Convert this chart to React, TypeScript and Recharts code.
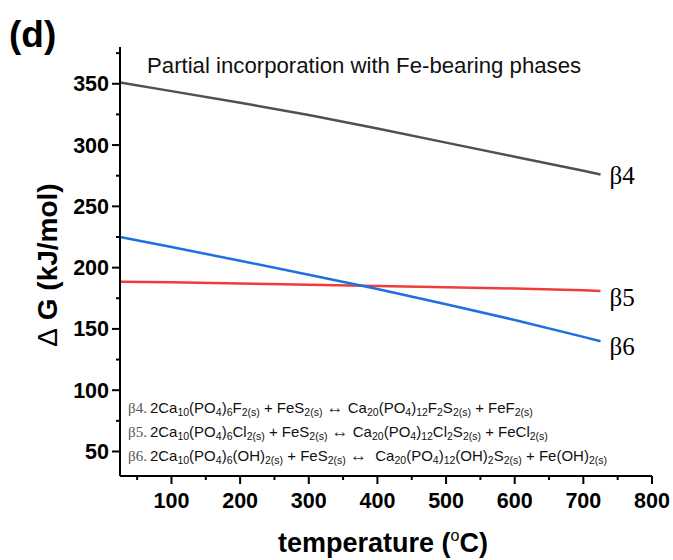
import React from "react";
import { LineChart, Line, XAxis, YAxis } from "recharts";

const temperature = [25, 100, 200, 300, 400, 500, 600, 700, 725];
const beta4 = [351, 344, 334.5, 324.5, 313.5, 302, 290.5, 279, 276];
const beta5 = [188.5, 188, 187, 186, 185, 184, 183, 181.5, 181];
const beta6 = [225, 216.8, 205.6, 194.2, 182.5, 170.2, 157.3, 143.5, 140];

const xTicks = [50, 100, 150, 200, 250, 300, 350, 400, 450, 500, 550, 600, 650, 700, 750, 800];
const xLabels = [100, 200, 300, 400, 500, 600, 700, 800];
const yTicks = [50, 75, 100, 125, 150, 175, 200, 225, 250, 275, 300, 325, 350, 375];
const yLabels = [50, 100, 150, 200, 250, 300, 350];

const data = temperature.map((t, i) => ({
  t,
  b4: beta4[i],
  b5: beta5[i],
  b6: beta6[i],
}));

const sans = "'Liberation Sans', Arial, sans-serif";
const serif = "'Liberation Serif', 'Times New Roman', serif";

// @ts-ignore
const XTick = (props) => {
  const { x, y, payload } = props;
  const major = xLabels.includes(payload.value);
  return (
    <g>
      <line x1={x} x2={x} y1={y} y2={y + (major ? 8 : 4)} stroke="#000" strokeWidth={2} />
      {major && (
        <text x={x} y={y + 32} textAnchor="middle" fontFamily={sans} fontWeight="bold" fontSize={21.5} fill="#000">
          {payload.value}
        </text>
      )}
    </g>
  );
};

// @ts-ignore
const YTick = (props) => {
  const { x, y, payload } = props;
  const major = yLabels.includes(payload.value);
  return (
    <g>
      <line x1={x} x2={x - (major ? 8 : 4)} y1={y} y2={y} stroke="#000" strokeWidth={2} />
      {major && (
        <text x={x - 11} y={y + 7.5} textAnchor="end" fontFamily={sans} fontWeight="bold" fontSize={21.5} fill="#000">
          {payload.value}
        </text>
      )}
    </g>
  );
};

const endLabel = (name: string, dy: number) => (props: any) => {
  const { x, y, index } = props;
  if (index !== temperature.length - 1) return null;
  return (
    <text key={name} x={x + 9} y={y + dy} fontFamily={serif} fontSize={25} fill="#000">
      {name}
    </text>
  );
};

const subStyle: React.CSSProperties = { fontSize: 10.5, verticalAlign: "-3px", lineHeight: 0 };
const S = (p: { children: React.ReactNode }) => <span style={subStyle}>{p.children}</span>;
const B = (p: { children: React.ReactNode }) => (
  <span style={{ fontFamily: serif, color: "#555", marginRight: 3 }}>{p.children}</span>
);
const Arrow = () => <span style={{ fontSize: 17, color: "#333" }}>↔</span>;

const eqStyle = (top: number): React.CSSProperties => ({
  position: "absolute",
  left: 128,
  top,
  fontFamily: sans,
  fontSize: 15,
  color: "#111",
  whiteSpace: "nowrap",
  lineHeight: "16px",
});

export default function App() {
  return (
    <div style={{ position: "absolute", left: 0, top: 0, width: 673, height: 560, background: "#fff" }}>
      <LineChart width={673} height={560} data={data} margin={{ top: 47, right: 21, bottom: 0, left: 0 }}>
        <XAxis
          dataKey="t"
          type="number"
          domain={[25, 800]}
          ticks={xTicks}
          interval={0}
          height={84}
          tickSize={0}
          tickMargin={0}
          tick={<XTick />}
          axisLine={{ stroke: "#000", strokeWidth: 2 }}
          tickLine={false}
        />
        <YAxis
          type="number"
          domain={[30, 380]}
          ticks={yTicks}
          interval={0}
          width={120}
          tickSize={0}
          tickMargin={0}
          tick={<YTick />}
          axisLine={{ stroke: "#000", strokeWidth: 2 }}
          tickLine={false}
        />
        <Line dataKey="b4" stroke="#505050" strokeWidth={2.5} dot={false} isAnimationActive={false} label={endLabel("β4", 10)} />
        <Line dataKey="b5" stroke="#ef3d3d" strokeWidth={2.5} dot={false} isAnimationActive={false} label={endLabel("β5", 15)} />
        <Line dataKey="b6" stroke="#1f6fe3" strokeWidth={2.5} dot={false} isAnimationActive={false} label={endLabel("β6", 14)} />
      </LineChart>

      <svg width={673} height={560} style={{ position: "absolute", left: 0, top: 0, pointerEvents: "none" }}>
        <text x={9} y={47} fontFamily={sans} fontWeight="bold" fontSize={37} fill="#000">(d)</text>
        <text x={147} y={73} fontFamily={sans} fontSize={22.2} fill="#111">Partial incorporation with Fe-bearing phases</text>
        <text
          transform="translate(57,265) rotate(-90)"
          textAnchor="middle"
          fontFamily={sans}
          fontWeight="bold"
          fontSize={28}
          fill="#000"
        >
          <tspan fontWeight="normal">Δ</tspan> G (kJ/mol)
        </text>
        <text x={383} y={552} textAnchor="middle" fontFamily={sans} fontWeight="bold" fontSize={27} fill="#000">
          temperature (<tspan fontWeight="normal" fontSize={16} dy={-11}>o</tspan><tspan dy={11}>C)</tspan>
        </text>
      </svg>

      <div style={eqStyle(400)}>
        <B>β4.</B>2Ca<S>10</S>(PO<S>4</S>)<S>6</S>F<S>2(s)</S> + FeS<S>2(s)</S> <Arrow /> Ca<S>20</S>(PO<S>4</S>)<S>12</S>F<S>2</S>S<S>2(s)</S> + FeF<S>2(s)</S>
      </div>
      <div style={eqStyle(424)}>
        <B>β5.</B>2Ca<S>10</S>(PO<S>4</S>)<S>6</S>Cl<S>2(s)</S> + FeS<S>2(s)</S> <Arrow /> Ca<S>20</S>(PO<S>4</S>)<S>12</S>Cl<S>2</S>S<S>2(s)</S> + FeCl<S>2(s)</S>
      </div>
      <div style={eqStyle(448)}>
        <B>β6.</B>2Ca<S>10</S>(PO<S>4</S>)<S>6</S>(OH)<S>2(s)</S> + FeS<S>2(s)</S> <Arrow />&nbsp; Ca<S>20</S>(PO<S>4</S>)<S>12</S>(OH)<S>2</S>S<S>2(s)</S> + Fe(OH)<S>2(s)</S>
      </div>
    </div>
  );
}
